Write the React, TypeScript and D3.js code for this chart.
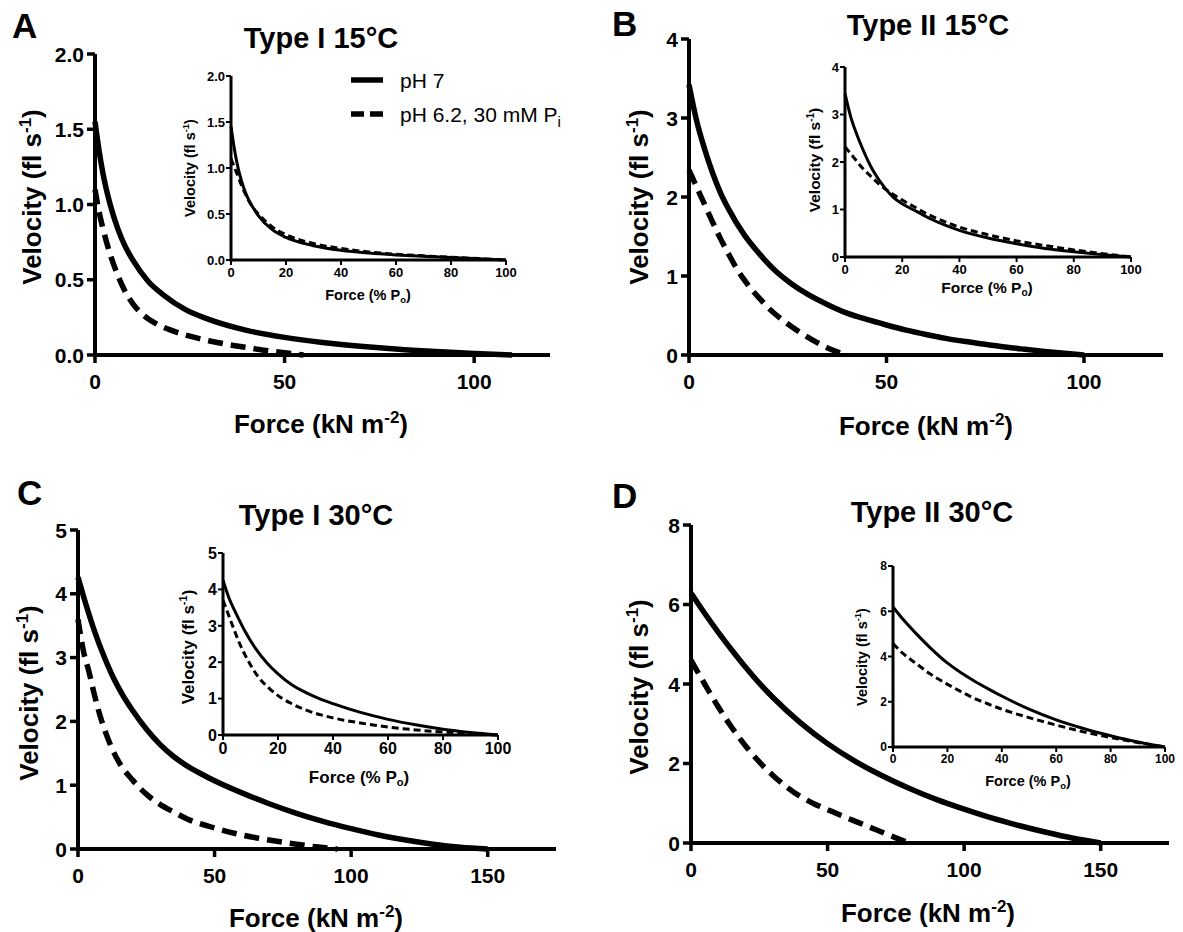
import React from "react";
import * as d3 from "d3";

// tick values
const forceTicksTop = [0, 50, 100];
const forceTicksBottom = [0, 50, 100, 150];
const percentTicks = [0, 20, 40, 60, 80, 100];
const velTicksA = [0, 0.5, 1, 1.5, 2];
const velTicksB = [0, 1, 2, 3, 4];
const velTicksC = [0, 1, 2, 3, 4, 5];
const velTicksD = [0, 2, 4, 6, 8];

// A: Type I 15 C, force in kN m-2
const aMainPH7 = [[0, 1.55], [1, 1.37], [2, 1.22], [4, 1.0], [6, 0.84], [8, 0.72], [10, 0.63], [14, 0.49], [18, 0.4], [24, 0.3], [30, 0.237], [40, 0.164], [50, 0.117], [60, 0.083], [70, 0.058], [80, 0.038], [90, 0.023], [100, 0.01], [110, 0]];
const aMainAcid = [[0, 1.1], [1, 0.96], [2, 0.85], [4, 0.67], [6, 0.53], [8, 0.42], [10, 0.34], [13, 0.26], [16, 0.21], [20, 0.165], [25, 0.125], [30, 0.095], [35, 0.07], [40, 0.05], [45, 0.03], [50, 0.015], [55, 0]];
const aInsetPH7 = [[0, 1.45], [1, 1.25], [2, 1.08], [4, 0.84], [6, 0.68], [8, 0.57], [10, 0.48], [15, 0.33], [20, 0.245], [30, 0.155], [40, 0.105], [50, 0.075], [60, 0.055], [70, 0.04], [80, 0.027], [90, 0.014], [100, 0]];
const aInsetAcid = [[0, 1.1], [2, 0.95], [4, 0.8], [6, 0.67], [8, 0.57], [10, 0.5], [15, 0.36], [20, 0.275], [30, 0.18], [40, 0.125], [50, 0.088], [60, 0.062], [70, 0.045], [80, 0.03], [90, 0.015], [100, 0]];

// B: Type II 15 C
const bMainPH7 = [[0, 3.42], [2, 2.95], [4, 2.6], [6, 2.3], [8, 2.05], [10, 1.85], [14, 1.52], [18, 1.27], [22, 1.06], [26, 0.9], [30, 0.77], [35, 0.64], [40, 0.53], [45, 0.45], [50, 0.38], [55, 0.315], [60, 0.26], [65, 0.21], [70, 0.17], [75, 0.135], [80, 0.1], [85, 0.072], [90, 0.046], [95, 0.022], [100, 0]];
const bMainAcid = [[0, 2.34], [2, 2.12], [4, 1.9], [6, 1.68], [8, 1.47], [10, 1.28], [12, 1.1], [14, 0.95], [16, 0.82], [18, 0.71], [20, 0.6], [24, 0.43], [28, 0.29], [32, 0.17], [36, 0.07], [40, 0]];
const bInsetPH7 = [[0, 3.44], [2, 2.95], [4, 2.6], [6, 2.3], [8, 2.03], [10, 1.8], [14, 1.45], [17, 1.25], [20, 1.12], [25, 0.96], [30, 0.8], [35, 0.67], [40, 0.56], [50, 0.4], [60, 0.28], [70, 0.18], [80, 0.11], [90, 0.05], [100, 0]];
const bInsetAcid = [[0, 2.32], [3, 2.1], [6, 1.88], [9, 1.7], [12, 1.53], [16, 1.35], [20, 1.2], [25, 1.03], [30, 0.87], [35, 0.74], [40, 0.63], [50, 0.47], [60, 0.34], [70, 0.24], [80, 0.15], [90, 0.07], [100, 0]];

// C: Type I 30 C
const cMainPH7 = [[0, 4.26], [3, 3.82], [6, 3.42], [10, 2.97], [13, 2.68], [16, 2.44], [20, 2.17], [25, 1.88], [30, 1.64], [35, 1.45], [40, 1.3], [45, 1.18], [50, 1.07], [60, 0.88], [70, 0.71], [80, 0.56], [90, 0.43], [100, 0.32], [110, 0.22], [120, 0.14], [130, 0.075], [140, 0.028], [150, 0]];
const cMainAcid = [[0, 3.6], [2, 3.1], [4, 2.78], [6, 2.42], [8, 2.1], [10, 1.84], [12, 1.62], [15, 1.36], [20, 1.08], [25, 0.86], [30, 0.7], [35, 0.58], [40, 0.47], [50, 0.33], [60, 0.22], [70, 0.14], [80, 0.075], [88, 0.03], [95, 0]];
const cInsetPH7 = [[0, 4.25], [2, 3.8], [5, 3.3], [8, 2.85], [12, 2.36], [16, 1.98], [20, 1.68], [25, 1.38], [30, 1.17], [35, 1.0], [40, 0.86], [50, 0.62], [60, 0.43], [70, 0.28], [80, 0.16], [90, 0.07], [100, 0]];
const cInsetAcid = [[0, 3.7], [2, 3.3], [4, 2.9], [6, 2.52], [9, 2.06], [13, 1.58], [17, 1.27], [21, 1.03], [25, 0.86], [30, 0.69], [40, 0.47], [50, 0.33], [60, 0.22], [70, 0.14], [80, 0.085], [90, 0.04], [100, 0]];

// D: Type II 30 C
const dMainPH7 = [[0, 6.29], [5, 5.78], [10, 5.3], [15, 4.85], [20, 4.42], [25, 4.02], [30, 3.66], [40, 3.03], [50, 2.5], [60, 2.06], [70, 1.69], [80, 1.37], [90, 1.09], [100, 0.85], [110, 0.63], [120, 0.44], [130, 0.27], [140, 0.12], [150, 0]];
const dMainAcid = [[0, 4.6], [5, 4.0], [10, 3.42], [15, 2.9], [20, 2.44], [25, 2.04], [30, 1.7], [35, 1.41], [40, 1.17], [45, 0.99], [50, 0.84], [55, 0.69], [60, 0.55], [65, 0.41], [70, 0.27], [75, 0.13], [80, 0]];
const dInsetPH7 = [[0, 6.19], [4, 5.6], [8.6, 5.0], [14, 4.35], [19.6, 3.75], [25, 3.28], [29.4, 2.95], [35, 2.57], [40.5, 2.22], [50, 1.67], [60, 1.2], [70, 0.82], [80, 0.5], [90, 0.22], [100, 0]];
const dInsetAcid = [[0, 4.57], [4, 4.1], [8.6, 3.68], [14, 3.2], [19.6, 2.8], [25, 2.45], [29.4, 2.18], [35, 1.9], [40.5, 1.65], [50, 1.3], [60, 0.97], [70, 0.67], [80, 0.42], [90, 0.2], [100, 0]];

const FONT = "'Liberation Sans', Arial, Helvetica, sans-serif";

type Pt = number[];

const makeLine = (x: d3.ScaleLinear<number, number>, y: d3.ScaleLinear<number, number>) =>
  d3
    .line<Pt>()
    .x((d) => x(d[0]))
    .y((d) => y(d[1]))
    .curve(d3.curveMonotoneX);

function Inset({ cfg }: { cfg: any }) {
  const x = d3.scaleLinear().domain([0, 100]).range([cfg.x0, cfg.x1]);
  const y = d3.scaleLinear().domain([0, cfg.yMax]).range([cfg.y0, cfg.y1]);
  const line = makeLine(x, y);
  const fmt = cfg.yFmt;
  return (
    <g>
      <path d={line(cfg.solid) || ""} fill="none" stroke="#000" strokeWidth={3} />
      <path d={line(cfg.dashed) || ""} fill="none" stroke="#000" strokeWidth={3} strokeDasharray="7 4" />
      <line x1={cfg.x0} x2={cfg.x1} y1={cfg.y0} y2={cfg.y0} stroke="#000" strokeWidth={3} />
      <line x1={cfg.x0} x2={cfg.x0} y1={cfg.y0 + 1.5} y2={cfg.y1} stroke="#000" strokeWidth={3} />
      {percentTicks.map((t) => (
        <g key={"ix" + t}>
          <line x1={x(t)} x2={x(t)} y1={cfg.y0} y2={cfg.y0 + 5} stroke="#000" strokeWidth={2} />
          <text x={x(t)} y={cfg.y0 + 7 + cfg.tickFont * 0.75} textAnchor="middle" fontSize={cfg.tickFont} fontWeight="bold" fontFamily={FONT}>
            {t}
          </text>
        </g>
      ))}
      {cfg.yTicks.map((t: number) => (
        <g key={"iy" + t}>
          <line x1={cfg.x0 - 5} x2={cfg.x0} y1={y(t)} y2={y(t)} stroke="#000" strokeWidth={2} />
          <text x={cfg.x0 - 6} y={y(t) + cfg.tickFont * 0.36} textAnchor="end" fontSize={cfg.tickFont} fontWeight="bold" fontFamily={FONT}>
            {fmt(t)}
          </text>
        </g>
      ))}
      <text x={cfg.xTitleX} y={cfg.xTitleY} textAnchor="middle" fontSize={cfg.titleFont} fontWeight="bold" fontFamily={FONT}>
        Force (% P<tspan fontSize={cfg.titleFont * 0.65} dy={3}>o</tspan>
        <tspan dy={-3}>)</tspan>
      </text>
      <text
        transform={`translate(${cfg.yTitleX},${cfg.yTitleY}) rotate(-90)`}
        textAnchor="middle"
        fontSize={cfg.titleFont}
        fontWeight="bold"
        fontFamily={FONT}
      >
        Velocity (fl s<tspan fontSize={cfg.titleFont * 0.65} dy={-cfg.titleFont * 0.4}>-1</tspan>
        <tspan dy={cfg.titleFont * 0.4}>)</tspan>
      </text>
    </g>
  );
}

function Panel({ cfg }: { cfg: any }) {
  const x = d3.scaleLinear().domain([0, cfg.xMax]).range([cfg.x0, cfg.x1]);
  const y = d3.scaleLinear().domain([0, cfg.yMax]).range([cfg.y0, cfg.y1]);
  const line = makeLine(x, y);
  const fmt = cfg.yFmt;
  return (
    <g>
      <text x={cfg.letterX} y={cfg.letterY} fontSize={35} fontWeight="bold" fontFamily={FONT}>
        {cfg.letter}
      </text>
      <text x={cfg.titleX} y={cfg.titleY} textAnchor="middle" fontSize={29} fontWeight="bold" fontFamily={FONT}>
        {cfg.title}
      </text>
      <path d={line(cfg.solid) || ""} fill="none" stroke="#000" strokeWidth={5.5} />
      <path d={line(cfg.dashed) || ""} fill="none" stroke="#000" strokeWidth={5.5} strokeDasharray="15 8" />
      <line x1={cfg.x0} x2={cfg.x1} y1={cfg.y0} y2={cfg.y0} stroke="#000" strokeWidth={4} />
      <line x1={cfg.x0} x2={cfg.x0} y1={cfg.y0 + 2} y2={cfg.y1} stroke="#000" strokeWidth={4} />
      {cfg.xTicks.map((t: number) => (
        <g key={"x" + t}>
          <line x1={x(t)} x2={x(t)} y1={cfg.y0} y2={cfg.y0 + 8} stroke="#000" strokeWidth={3.5} />
          <text x={x(t)} y={cfg.y0 + 34} textAnchor="middle" fontSize={21} fontWeight="bold" fontFamily={FONT}>
            {t}
          </text>
        </g>
      ))}
      {cfg.yTicks.map((t: number) => (
        <g key={"y" + t}>
          <line x1={cfg.x0 - 8} x2={cfg.x0} y1={y(t)} y2={y(t)} stroke="#000" strokeWidth={3.5} />
          <text x={cfg.x0 - 11} y={y(t) + 7.5} textAnchor="end" fontSize={21} fontWeight="bold" fontFamily={FONT}>
            {fmt(t)}
          </text>
        </g>
      ))}
      <text x={cfg.xTitleX} y={cfg.xTitleY} textAnchor="middle" fontSize={26} fontWeight="bold" fontFamily={FONT}>
        Force (kN m<tspan fontSize={17} dy={-10}>-2</tspan>
        <tspan dy={10}>)</tspan>
      </text>
      <text
        transform={`translate(${cfg.yTitleX},${cfg.yTitleY}) rotate(-90)`}
        textAnchor="middle"
        fontSize={26}
        fontWeight="bold"
        fontFamily={FONT}
      >
        Velocity (fl s<tspan fontSize={17} dy={-10}>-1</tspan>
        <tspan dy={10}>)</tspan>
      </text>
      <Inset cfg={cfg.inset} />
    </g>
  );
}

const f1 = d3.format(".1f");
const f0 = d3.format("d");

const panels = [
  {
    letter: "A", letterX: 12, letterY: 38, title: "Type I 15\u00b0C", titleX: 321, titleY: 48,
    x0: 95, x1: 550, xMax: 120, y0: 355, y1: 54, yMax: 2, xTicks: forceTicksTop, yTicks: velTicksA, yFmt: f1,
    xTitleX: 321, xTitleY: 433, yTitleX: 41, yTitleY: 197,
    solid: aMainPH7, dashed: aMainAcid,
    inset: {
      x0: 231, x1: 506, y0: 260, y1: 76, yMax: 2, yTicks: velTicksA, yFmt: f1, tickFont: 13, titleFont: 14.5,
      xTitleX: 368, xTitleY: 300, yTitleX: 195, yTitleY: 168, solid: aInsetPH7, dashed: aInsetAcid,
    },
  },
  {
    letter: "B", letterX: 612, letterY: 36, title: "Type II 15\u00b0C", titleX: 928, titleY: 35,
    x0: 689, x1: 1163, xMax: 120, y0: 355, y1: 39, yMax: 4, xTicks: forceTicksTop, yTicks: velTicksB, yFmt: f0,
    xTitleX: 926, xTitleY: 435, yTitleX: 648, yTitleY: 197,
    solid: bMainPH7, dashed: bMainAcid,
    inset: {
      x0: 845, x1: 1131, y0: 257, y1: 67, yMax: 4, yTicks: velTicksB, yFmt: f0, tickFont: 13, titleFont: 15.5,
      xTitleX: 987, xTitleY: 293, yTitleX: 820, yTitleY: 160, solid: bInsetPH7, dashed: bInsetAcid,
    },
  },
  {
    letter: "C", letterX: 17, letterY: 505, title: "Type I 30\u00b0C", titleX: 316, titleY: 525,
    x0: 78, x1: 556, xMax: 175, y0: 849, y1: 530, yMax: 5, xTicks: forceTicksBottom, yTicks: velTicksC, yFmt: f0,
    xTitleX: 316, xTitleY: 927, yTitleX: 38, yTitleY: 693,
    solid: cMainPH7, dashed: cMainAcid,
    inset: {
      x0: 223, x1: 498, y0: 735, y1: 553, yMax: 5, yTicks: velTicksC, yFmt: f0, tickFont: 16, titleFont: 17,
      xTitleX: 359, xTitleY: 783, yTitleX: 194, yTitleY: 647, solid: cInsetPH7, dashed: cInsetAcid,
    },
  },
  {
    letter: "D", letterX: 612, letterY: 508, title: "Type II 30\u00b0C", titleX: 932, titleY: 522,
    x0: 691, x1: 1169, xMax: 175, y0: 843, y1: 525, yMax: 8, xTicks: forceTicksBottom, yTicks: velTicksD, yFmt: f0,
    xTitleX: 928, xTitleY: 922, yTitleX: 648, yTitleY: 687,
    solid: dMainPH7, dashed: dMainAcid,
    inset: {
      x0: 893, x1: 1165, y0: 747, y1: 566, yMax: 8, yTicks: velTicksD, yFmt: f0, tickFont: 12, titleFont: 14.5,
      xTitleX: 1028, xTitleY: 786, yTitleX: 867, yTitleY: 657, solid: dInsetPH7, dashed: dInsetAcid,
    },
  },
];

export default function App() {
  return (
    <svg
      width={1183}
      height={932}
      style={{ position: "absolute", left: 0, top: 0, background: "#fff" }}
    >
      <rect width={1183} height={932} fill="#fff" />
      {panels.map((p) => (
        <Panel key={p.letter} cfg={p} />
      ))}
      {/* legend */}
      <line x1={351} x2={383} y1={80} y2={80} stroke="#000" strokeWidth={5.5} />
      <line x1={351} x2={383} y1={114} y2={114} stroke="#000" strokeWidth={5.5} strokeDasharray="13 6" />
      <text x={400} y={88} fontSize={21} fontFamily={FONT}>pH 7</text>
      <text x={400} y={122} fontSize={21} fontFamily={FONT}>
        pH 6.2, 30 mM P<tspan fontSize={15} dy={5}>i</tspan>
      </text>
    </svg>
  );
}
